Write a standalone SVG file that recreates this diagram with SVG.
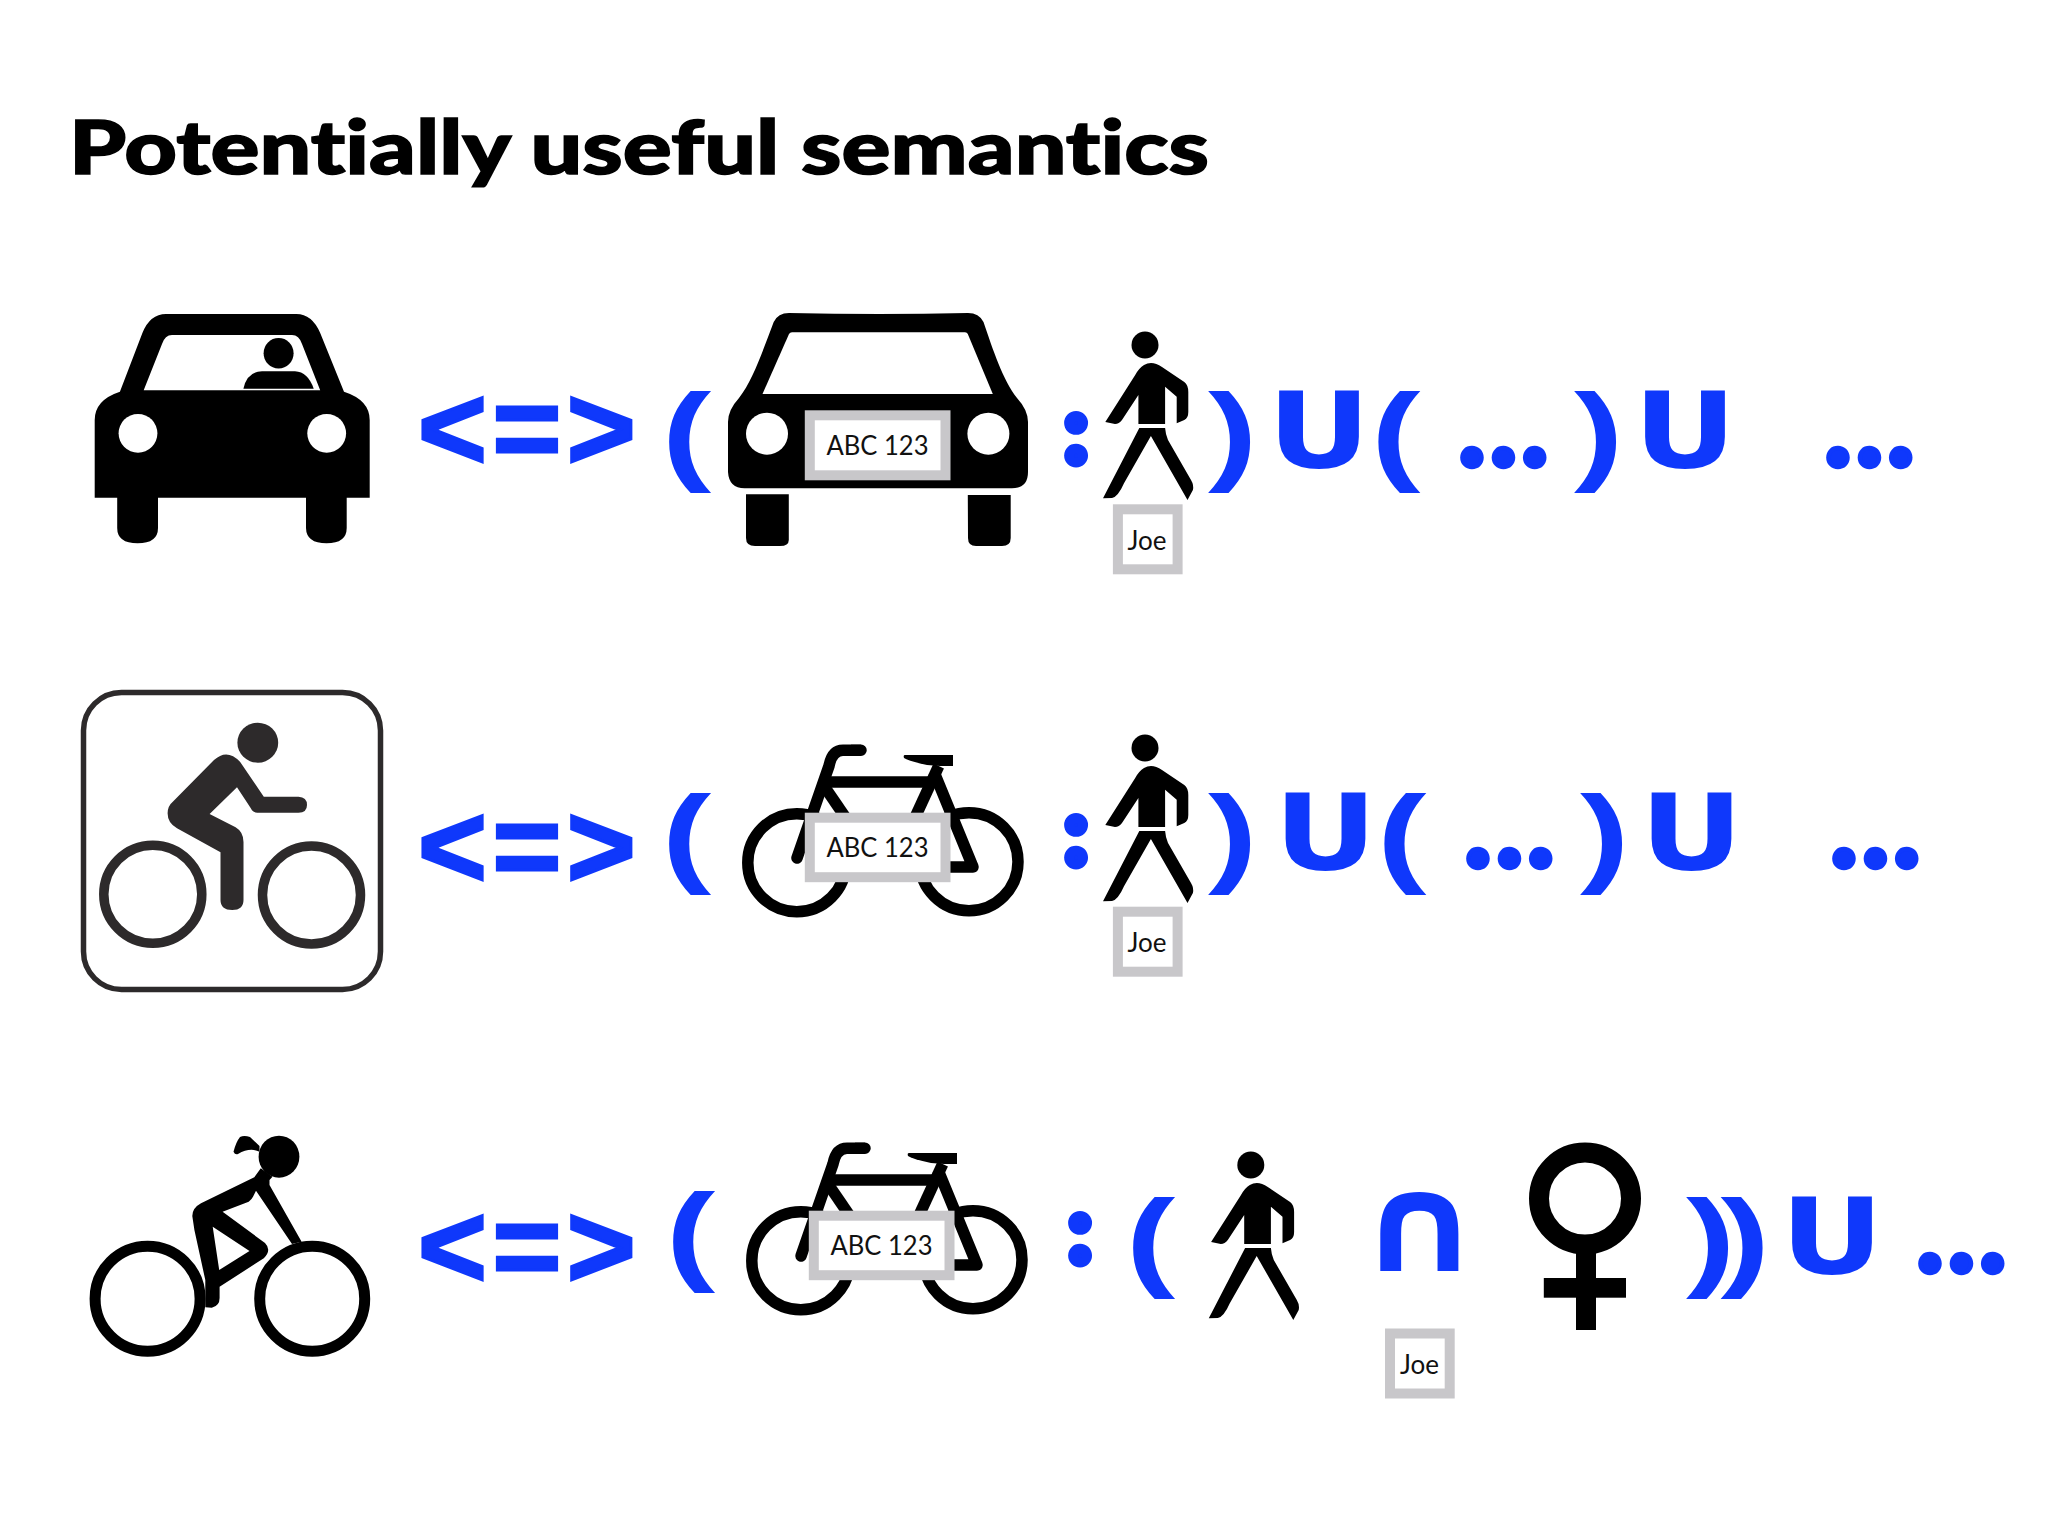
<svg xmlns="http://www.w3.org/2000/svg" xmlns:xlink="http://www.w3.org/1999/xlink" width="2048" height="1536" viewBox="0 0 2048 1536">
<style>
.t{font-family:"Lato","Liberation Sans",sans-serif;font-weight:900;fill:#000;stroke:#000;stroke-width:1.5;font-variant-ligatures:none}
.b{font-family:"Liberation Sans",sans-serif;font-weight:700;fill:#0f38fb}
.r{font-family:"Liberation Sans",sans-serif;font-weight:700;fill:#0f38fb;stroke:#0f38fb;stroke-width:3;font-size:118px;letter-spacing:5.5px}
.u{font-family:"DejaVu Sans",sans-serif;font-weight:700;fill:#0f38fb;font-size:105px;text-anchor:middle}
.d{font-family:"Lato","Liberation Sans",sans-serif;font-weight:700;fill:#0f38fb;stroke:#0f38fb;stroke-width:4.5;font-size:126px;letter-spacing:1.5px}
.c{font-family:"Lato","Liberation Sans",sans-serif;font-weight:700;fill:#0f38fb;stroke:#0f38fb;stroke-width:10;font-size:92px;text-anchor:middle}
.p{font-family:"Lato","Liberation Sans",sans-serif;fill:#111;font-size:26px;text-anchor:middle}
.box{fill:#fff;stroke:#c8c7ca;stroke-width:10}
.k{fill:#000}
.w{fill:#fff}
.wheel{fill:#fff;stroke:#000;stroke-width:11.5}
.tube{fill:none;stroke:#000;stroke-width:11.5}
</style>
<defs>
<g id="man" class="k">
<ellipse cx="1145" cy="345" rx="13.5" ry="13.5"/>
<path d="M1105.3,422 L1115,424 Q1119,424 1122,420 L1138.4,395 L1138.4,424 L1165.1,424 L1165.1,386.7 L1176.7,396.7 L1176.7,423.3 L1184.3,420 Q1188.3,418 1188.3,412 L1188.3,392 Q1188.3,385 1184.3,382 L1162,367 Q1152,360 1144,365 Q1139,368 1135.2,375 Z"/>
<path d="M1139.3,428 L1165.1,428 Q1165.5,434 1168,440 L1191,480 Q1194,485 1192.9,490 L1187.5,500 L1150.9,436 L1124,483.3 Q1118,497 1112,498 L1103,498.3 Z"/>
</g>
<g id="bike">
<circle class="wheel" cx="796.8" cy="862.7" r="49"/>
<circle class="wheel" cx="969" cy="861.7" r="49"/>
<path class="tube" d="M861,750.2 L843,750.2 Q832,750.2 829,766 L797,858" stroke-linecap="round"/>
<path class="k" d="M861,744.7 h-10 v11 h10z"/>
<path class="tube" d="M827,782 L933.4,782"/>
<path class="tube" d="M824,786 L850,824"/>
<path class="tube" d="M938.7,766 L912,824"/>
<path class="tube" d="M934,772 L973,867 L945,867" stroke-linejoin="round"/>
<path class="k" d="M905,755 L953,755 L953,766 L940,766 L927,765 Q908,761 904,758 Q903,755 905,755 Z"/>
<rect class="box" x="809.8" y="817.7" width="135.7" height="59.5"/>
<text class="p" x="877.5" y="856.7" textLength="102" lengthAdjust="spacingAndGlyphs">ABC 123</text>
</g>
</defs>
<g id="title"><text class="t" x="69" y="174" font-size="75" textLength="1140" lengthAdjust="spacingAndGlyphs">Potentially useful semantics</text></g>

<g id="car-driver" class="k">
<path d="M166,314 L296.4,314 Q312,314 320.2,333 L344,391.7 Q369.7,400 369.7,420 L369.7,497.7 L346.7,497.7 L346.7,528 Q346.7,543.3 326.5,543.3 Q306.3,543.3 306,528 L306,497.7 L158,497.7 L158,528 Q158,543.3 137.6,543.3 Q117.2,543.3 117.2,528 L117.2,497.7 L94.7,497.7 L94.7,420 Q94.7,400 119.9,391.7 L142.4,333 Q150,314 166,314 Z"/>
<path class="w" d="M143.7,390.3 L320.2,390.3 L302,344 Q299,335 292,335 L172,335 Q165,335 162,344 Z"/>
<circle class="w" cx="138" cy="433.3" r="19.4"/>
<circle class="w" cx="326.7" cy="433.3" r="19.4"/>
<ellipse cx="278.6" cy="353.3" rx="15" ry="15.3"/>
<path d="M243.4,388.7 Q247,371.3 262,371.3 L295,371.3 Q308,372 313.7,388.7 Z"/>
</g>

<g id="row1-relation">
<text class="r" x="418" y="469">&lt;=&gt;</text>
<text class="b" transform="translate(661.7,470) scale(1.35,1)" font-size="110">(</text>
</g>
<g id="car-plate" class="k">
<path d="M789,313 Q880,315 968,313 Q979,313 983.5,322 C993,350 1003,380 1017,398 Q1028,410 1028,422 L1028,472 Q1028,488.3 1012,488.3 L744.6,488.3 Q729,488.3 728,472 L728,422 Q728,410 739,398 C753,380 763,350 773.7,322 Q778,313 789,313 Z"/>
<path class="w" d="M762.5,394 L992.8,394 L967.8,334 Q967,332.3 965,332.3 L792,332.3 Q790,332.3 789,334 Z"/>
<circle class="w" cx="767" cy="433.7" r="21"/>
<circle class="w" cx="988.4" cy="433.7" r="21"/>
<path d="M746,494.3 L788.8,494.3 L788.8,540 Q788.8,546 780,546 L755,546 Q746,546 746,538 Z"/>
<path d="M967.8,495 L1010.7,495 L1010.7,538 Q1010.7,546 1002,546 L976,546 Q968,546 968,538 Z"/>
<rect class="box" x="809.8" y="415.3" width="135.7" height="60"/>
<text class="p" x="877.5" y="455" textLength="102" lengthAdjust="spacingAndGlyphs">ABC 123</text>
</g>
<g id="row1-colon"><text class="c" x="1076" y="462">:</text></g>
<use id="row1-man" xlink:href="#man" href="#man"/>
<g id="row1-joe"><rect class="box" x="1117.9" y="509.3" width="59.7" height="60"/><text class="p" x="1147" y="550.3">Joe</text></g>
<g id="row1-rest">
<text class="b" transform="translate(1208,470) scale(1.35,1)" font-size="110">)</text>
<text class="u" x="1319" y="467.5" textLength="103" lengthAdjust="spacingAndGlyphs">U</text>
<text class="b" transform="translate(1371,470) scale(1.35,1)" font-size="110">(</text>
<text class="d" x="1457" y="465.5">...</text>
<text class="b" transform="translate(1574,470) scale(1.35,1)" font-size="110">)</text>
<text class="u" x="1685" y="467.5" textLength="103" lengthAdjust="spacingAndGlyphs">U</text>
<text class="d" x="1823" y="465.5">...</text>
</g>

<g id="cyclist-sign">
<rect x="83.5" y="692.5" width="297" height="297" rx="38" fill="#fff" stroke="#2d2a2b" stroke-width="5.5"/>
<ellipse cx="257.8" cy="742.7" rx="20.4" ry="20" fill="#2d2a2b"/>
<circle cx="152.8" cy="894.3" r="49" fill="none" stroke="#2d2a2b" stroke-width="9.5"/>
<circle cx="311.5" cy="895" r="49" fill="none" stroke="#2d2a2b" stroke-width="9.5"/>
<path fill="#2d2a2b" d="M214,760 Q227,748 240,761.7 L263.8,796.7 L298.5,796.7 Q307,797 307,805 Q307,812.7 298.5,812.7 L257.3,812.7 Q253,812.7 250.8,808.3 L237,787.3 L209.6,814 L235.6,827.3 Q243.5,832 243.5,842 L243.5,900 Q243.5,910 232.2,910 Q220.5,910 220.5,900 L220.5,852.3 L177,828.3 Q167.6,823 167.6,813.3 Q167.6,806 172.8,801.7 Z"/>
</g>
<g id="row2-relation">
<text class="r" x="418" y="887">&lt;=&gt;</text>
<text class="b" transform="translate(661.7,872) scale(1.35,1)" font-size="110">(</text>
</g>
<use id="row2-bike" xlink:href="#bike" href="#bike"/>
<g id="row2-colon"><text class="c" x="1076" y="864">:</text></g>
<use id="row2-man" xlink:href="#man" href="#man" transform="translate(0,403)"/>
<g id="row2-joe"><rect class="box" x="1117.9" y="911.7" width="59.7" height="60"/><text class="p" x="1147" y="952">Joe</text></g>
<g id="row2-rest">
<text class="b" transform="translate(1208,872) scale(1.35,1)" font-size="110">)</text>
<text class="u" x="1325.5" y="869.5" textLength="103" lengthAdjust="spacingAndGlyphs">U</text>
<text class="b" transform="translate(1377,872) scale(1.35,1)" font-size="110">(</text>
<text class="d" x="1463" y="866.5">...</text>
<text class="b" transform="translate(1580,872) scale(1.35,1)" font-size="110">)</text>
<text class="u" x="1691.5" y="869.5" textLength="103" lengthAdjust="spacingAndGlyphs">U</text>
<text class="d" x="1829" y="866.5">...</text>
</g>

<g id="cyclist-woman" class="k">
<circle cx="147.6" cy="1298.7" r="52.5" fill="none" stroke="#000" stroke-width="11"/>
<circle cx="312.2" cy="1298.7" r="52.5" fill="none" stroke="#000" stroke-width="11"/>
<ellipse cx="279" cy="1156.7" rx="20.4" ry="21"/>
<path d="M259.5,1146 L250,1137 Q244,1135 240,1137 Q236,1142 233.5,1151.7 Q235,1155 238,1154 Q250,1147 259.5,1151.7 Z"/>
<path fill-rule="evenodd" d="M260.8,1168.3 L254.3,1177.3 L201,1203.3 Q192.3,1208 192.3,1216 L194.4,1230 L205.3,1280 L205.3,1307.3 L211.8,1307.7 Q219.6,1306 219.6,1298 L219.6,1286.7 L263.8,1258.3 Q272,1250 265,1243 L222.6,1211.7 L248.7,1201.7 Q252,1199 253,1196.7 L256,1190.7 L292,1244 L301.6,1241.7 L269.5,1185 L269.5,1180 L272.5,1176.7 Z M212.7,1226.7 L249.5,1251 L219.2,1270 Z"/>
</g>
<g id="row3-relation">
<text class="r" x="418" y="1287">&lt;=&gt;</text>
<text class="b" transform="translate(665.7,1270) scale(1.35,1)" font-size="110">(</text>
</g>
<use id="row3-bike" xlink:href="#bike" href="#bike" transform="translate(4,398)"/>
<g id="row3-colon"><text class="c" x="1080" y="1261.7">:</text></g>
<g id="row3-expr">
<text class="b" transform="translate(1125.7,1276) scale(1.35,1)" font-size="110">(</text>
<use id="row3-man" xlink:href="#man" href="#man" transform="translate(105.8,820)"/>
<text transform="translate(1419.5,1271) scale(1.37,1.22)" font-family="DejaVu Sans" font-weight="700" font-size="112" fill="#0f38fb" text-anchor="middle">∩</text>
<rect class="box" x="1390" y="1333.5" width="59.7" height="60"/>
<text class="p" x="1419.5" y="1374">Joe</text>
</g>
<g id="venus" class="k">
<circle cx="1585" cy="1198.5" r="46" fill="none" stroke="#000" stroke-width="20"/>
<rect x="1576" y="1250" width="20" height="80"/>
<rect x="1543.8" y="1278" width="82.2" height="19.7"/>
</g>
<g id="row3-rest">
<text class="b" transform="translate(1686,1276) scale(1.35,1)" font-size="110" letter-spacing="-11">))</text>
<text class="u" x="1832" y="1273.5" textLength="103" lengthAdjust="spacingAndGlyphs">U</text>
<text class="d" x="1915" y="1271.5">...</text>
</g>
</svg>
